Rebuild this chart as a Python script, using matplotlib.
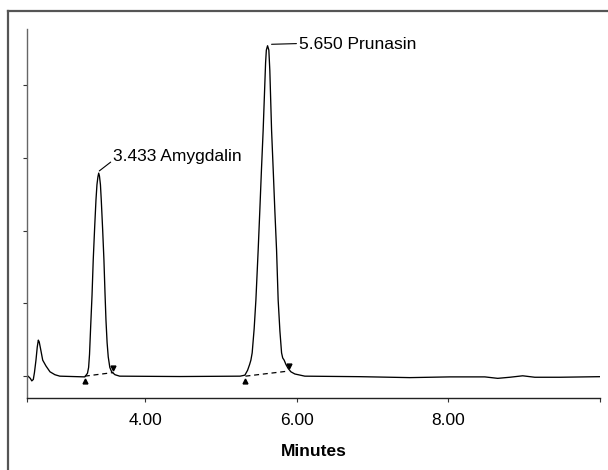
import matplotlib
matplotlib.use("Agg")
import matplotlib.pyplot as plt
from matplotlib.lines import Line2D

plt.rcParams['font.family'] = ['Liberation Sans', 'DejaVu Sans']

# chromatogram trace (minutes, detector units)
time = [2.45, 2.48, 2.50, 2.52, 2.535, 2.555, 2.572, 2.586, 2.598, 2.615, 2.644, 2.687,
        2.74, 2.805, 2.87, 3.20, 3.235, 3.25, 3.262, 3.277, 3.295, 3.311, 3.33,
        3.347, 3.36, 3.373, 3.383, 3.393, 3.406, 3.417, 3.435, 3.452, 3.466, 3.479,
        3.494, 3.509, 3.53, 3.554, 3.598, 3.66, 4.455, 5.25, 5.313, 5.348, 5.375,
        5.392, 5.409, 5.435, 5.458, 5.488, 5.51, 5.532, 5.554, 5.572, 5.586, 5.596,
        5.612, 5.629, 5.642, 5.665, 5.688, 5.708, 5.731, 5.752, 5.775, 5.797, 5.812,
        5.831, 5.855, 5.884, 5.92, 5.972, 6.104, 6.83, 7.49, 8.02, 8.48, 8.65,
        8.81, 8.98, 9.14, 9.47, 10.0]
signal = [0.0, -0.03, -0.065, -0.045, 0.05, 0.22, 0.40, 0.495, 0.47, 0.38, 0.22, 0.14,
          0.06, 0.02, 0.0, -0.01, 0.04, 0.12, 0.30, 0.68, 1.11, 1.60, 2.05,
          2.42, 2.63, 2.74, 2.79, 2.75, 2.63, 2.42, 2.02, 1.60, 1.15, 0.77,
          0.46, 0.265, 0.12, 0.06, 0.02, 0.0, -0.005, 0.0, 0.014, 0.08, 0.16,
          0.22, 0.32, 0.65, 1.045, 1.73, 2.28, 2.85, 3.38, 3.90, 4.305, 4.48,
          4.54, 4.48, 4.20, 3.38, 2.80, 2.28, 1.73, 1.045, 0.62, 0.32, 0.25,
          0.22, 0.16, 0.106, 0.06, 0.03, 0.0, -0.007, -0.02, -0.01, -0.01, -0.03,
          -0.015, 0.005, -0.015, -0.015, -0.007]

# integration baselines (start, end) and peak marks
base_t = [(3.20, 3.578), (5.32, 5.889)]
base_v = [(0.0, 0.05), (0.0, 0.07)]
start_t = [3.20, 5.317]
start_v = [-0.065, -0.07]
end_t = [3.578, 5.889]
end_v = [0.117, 0.145]

# peak labels
labels = ['3.433 Amygdalin', '5.650 Prunasin']
peak_xy = [(3.391, 2.82), (5.665, 4.56)]
text_xy = [(3.578, 2.95), (6.03, 4.56)]
text_va = ['baseline', 'center']
text_rel = [(0, 0.3), (0, 0.55)]

xticks = [2.443, 4, 6, 8, 10]
xticklabels = ['', '4.00', '6.00', '8.00', '']
yticks = [0, 1, 2, 3, 4]

fig = plt.figure(figsize=(6.08, 4.70), dpi=100)
ax = fig.add_axes([0.0452, 0.1532, 0.9416, 0.7851])

ax.plot(time, signal, color='black', lw=0.95)
for bt, bv in zip(base_t, base_v):
    ax.plot(bt, bv, color='black', lw=0.9, ls=(0, (4, 3)))
ax.plot(start_t, start_v, '^', color='black', ms=3.5)
ax.plot(end_t, end_v, 'v', color='black', ms=3.5)

for lab, pxy, txy, va, rel in zip(labels, peak_xy, text_xy, text_va, text_rel):
    ax.annotate(lab, xy=pxy, xytext=txy, fontsize=12.5, ha='left', va=va,
                arrowprops=dict(arrowstyle='-', lw=0.8, color='black',
                                shrinkA=0, shrinkB=0, relpos=rel))

ax.set_xlim(2.443, 10.0)
ax.set_ylim(-0.30, 4.77)
ax.set_xticks(xticks)
ax.set_xticklabels(xticklabels, fontsize=12.5)
ax.set_yticks(yticks)
ax.set_yticklabels([])
ax.tick_params(axis='both', direction='out', length=3, width=0.8, color='#333333')
ax.tick_params(axis='x', pad=8)
ax.set_xlabel('Minutes', fontsize=12.5, fontweight='bold', labelpad=11)

for side in ['top', 'right']:
    ax.spines[side].set_visible(False)
ax.spines['left'].set_color('#666666')
ax.spines['bottom'].set_color('#222222')
ax.spines['left'].set_linewidth(1.0)
ax.spines['bottom'].set_linewidth(1.0)

# outer frame of the figure (left and top edges)
fx = 8 / 608
fy = 1 - 11 / 470
fig.add_artist(Line2D([fx, fx], [0, fy], color='#555555', lw=1.6, transform=fig.transFigure))
fig.add_artist(Line2D([fx, 1], [fy, fy], color='#555555', lw=1.6, transform=fig.transFigure))

fig.savefig('out.png', dpi=100)
